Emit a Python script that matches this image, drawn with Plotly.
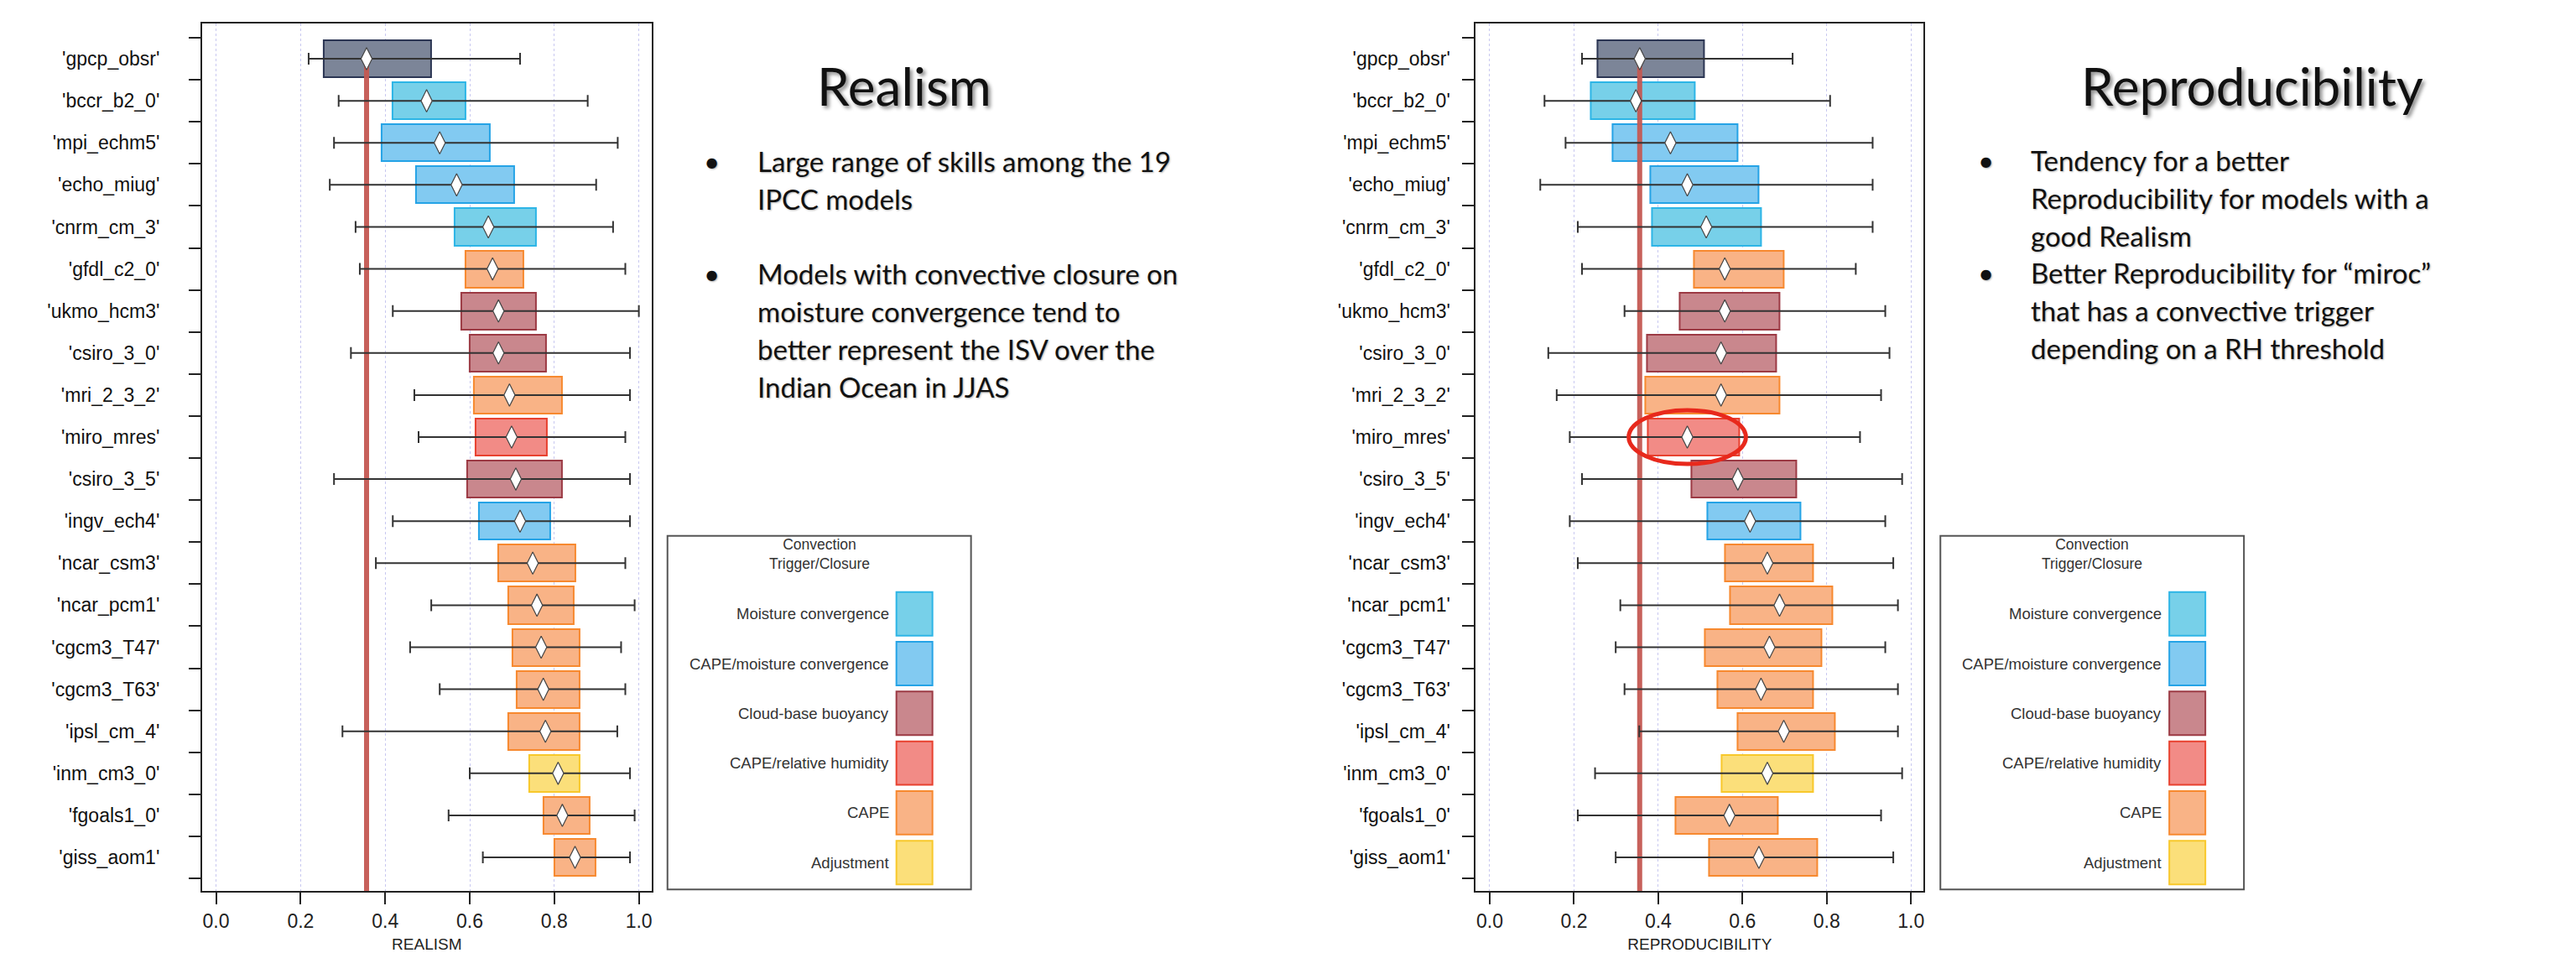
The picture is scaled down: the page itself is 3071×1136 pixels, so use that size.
import plotly.graph_objects as go

W, H = 3071, 1136

# ---- data -------------------------------------------------------------
models = ["'gpcp_obsr'", "'bccr_b2_0'", "'mpi_echm5'", "'echo_miug'", "'cnrm_cm_3'",
          "'gfdl_c2_0'", "'ukmo_hcm3'", "'csiro_3_0'", "'mri_2_3_2'", "'miro_mres'",
          "'csiro_3_5'", "'ingv_ech4'", "'ncar_csm3'", "'ncar_pcm1'", "'cgcm3_T47'",
          "'cgcm3_T63'", "'ipsl_cm_4'", "'inm_cm3_0'", "'fgoals1_0'", "'giss_aom1'"]

scheme = ["Observation", "Moisture convergence", "CAPE/moisture convergence",
          "CAPE/moisture convergence", "Moisture convergence", "CAPE",
          "Cloud-base buoyancy", "Cloud-base buoyancy", "CAPE", "CAPE/relative humidity",
          "Cloud-base buoyancy", "CAPE/moisture convergence", "CAPE", "CAPE", "CAPE",
          "CAPE", "CAPE", "Adjustment", "CAPE", "CAPE"]

# Realism: interquartile box, whisker range and median
real_q1 = [0.255, 0.418, 0.391, 0.473, 0.565, 0.590, 0.580, 0.600, 0.609, 0.614,
           0.593, 0.621, 0.667, 0.691, 0.701, 0.711, 0.691, 0.741, 0.774, 0.801]
real_q3 = [0.508, 0.590, 0.648, 0.705, 0.757, 0.727, 0.757, 0.780, 0.818, 0.783,
           0.818, 0.790, 0.850, 0.846, 0.859, 0.859, 0.859, 0.859, 0.883, 0.898]
real_min = [0.219, 0.290, 0.279, 0.269, 0.330, 0.340, 0.418, 0.319, 0.469, 0.479,
            0.279, 0.418, 0.378, 0.509, 0.459, 0.529, 0.299, 0.600, 0.550, 0.631]
real_max = [0.719, 0.879, 0.950, 0.899, 0.939, 0.968, 1.000, 0.979, 0.979, 0.968,
            0.979, 0.979, 0.968, 0.990, 0.958, 0.968, 0.949, 0.979, 0.990, 0.979]
real_med = [0.356, 0.498, 0.529, 0.569, 0.644, 0.654, 0.668, 0.668, 0.694, 0.699,
            0.709, 0.719, 0.749, 0.759, 0.769, 0.774, 0.779, 0.809, 0.819, 0.849]

# Reproducibility
rep_q1 = [0.256, 0.239, 0.291, 0.381, 0.385, 0.485, 0.451, 0.373, 0.370, 0.375,
          0.479, 0.517, 0.558, 0.570, 0.510, 0.540, 0.588, 0.550, 0.441, 0.520]
rep_q3 = [0.508, 0.487, 0.588, 0.639, 0.644, 0.697, 0.688, 0.680, 0.688, 0.593,
          0.728, 0.738, 0.768, 0.814, 0.788, 0.768, 0.820, 0.768, 0.683, 0.778]
rep_min = [0.219, 0.130, 0.180, 0.120, 0.209, 0.219, 0.320, 0.139, 0.159, 0.190,
           0.219, 0.190, 0.209, 0.310, 0.299, 0.320, 0.355, 0.250, 0.209, 0.299]
rep_max = [0.719, 0.808, 0.909, 0.909, 0.909, 0.869, 0.939, 0.949, 0.929, 0.879,
           0.979, 0.939, 0.958, 0.969, 0.939, 0.969, 0.969, 0.979, 0.929, 0.958]
rep_med = [0.356, 0.347, 0.429, 0.469, 0.514, 0.558, 0.558, 0.549, 0.549, 0.469,
           0.589, 0.618, 0.659, 0.688, 0.664, 0.644, 0.698, 0.659, 0.569, 0.639]

x_ticks = [0.0, 0.2, 0.4, 0.6, 0.8, 1.0]
legend_items = ["Moisture convergence", "CAPE/moisture convergence", "Cloud-base buoyancy",
                "CAPE/relative humidity", "CAPE", "Adjustment"]
highlight_model = "'miro_mres'"

realism_notes = [
    ["Large range of skills among the 19", "IPCC models"],
    ["Models with convective closure on", "moisture convergence tend to",
     "better represent the ISV over the", "Indian Ocean in JJAS"],
]
reproducibility_notes = [
    ["Tendency for a better", "Reproducibility for models with a", "good Realism"],
    ["Better Reproducibility for \u201cmiroc\u201d", "that has a convective trigger",
     "depending on a RH threshold"],
]

# ---- styles -----------------------------------------------------------
FILL = {"Observation": "#7c8598", "Moisture convergence": "#77d0e9",
        "CAPE/moisture convergence": "#82caf1", "Cloud-base buoyancy": "#c9878d",
        "CAPE/relative humidity": "#f28b86", "CAPE": "#f9b386", "Adjustment": "#fbdf7a"}
EDGE = {"Observation": "#2b3553", "Moisture convergence": "#2db5e6",
        "CAPE/moisture convergence": "#25a3e6", "Cloud-base buoyancy": "#9c3a44",
        "CAPE/relative humidity": "#e8412f", "CAPE": "#f7892f", "Adjustment": "#f8c82b"}
AX = "#222222"
LABEL_FONT = "Liberation Sans, Arial, sans-serif"
TEXT_FONT = "Lato, Open Sans, sans-serif"
Y_RANGE = [19.80, -0.84]
X_RANGE = [-0.033, 1.030]
LINE_STEP = 45          # body text line pitch in px
BODY_SIZE = 33


def px(x):
    return x / W


def py(y):
    return 1 - y / H


fig = go.Figure()
rows = list(range(len(models)))

panels = [
    dict(xa="x", ya="y", q1=real_q1, q3=real_q3, lo=real_min, hi=real_max, med=real_med),
    dict(xa="x2", ya="y2", q1=rep_q1, q3=rep_q3, lo=rep_min, hi=rep_max, med=rep_med),
]

for p in panels:
    # interquartile boxes
    fig.add_trace(go.Bar(
        orientation="h", y=rows, base=p["q1"],
        x=[b - a for a, b in zip(p["q1"], p["q3"])], width=0.88,
        marker=dict(color=[FILL[s] for s in scheme],
                    line=dict(color=[EDGE[s] for s in scheme], width=2)),
        xaxis=p["xa"], yaxis=p["ya"], hoverinfo="skip", showlegend=False))
    # observed reference line running down from the observation median
    obs = p["med"][0]
    fig.add_trace(go.Scatter(
        x=[obs, obs], y=[rows[0], Y_RANGE[0]], mode="lines",
        line=dict(color="rgba(196,88,82,0.95)", width=6),
        xaxis=p["xa"], yaxis=p["ya"], hoverinfo="skip", showlegend=False))
    # whiskers and medians
    fig.add_trace(go.Scatter(
        x=p["med"], y=rows, mode="markers",
        marker=dict(symbol="diamond-tall", size=19, color="white",
                    line=dict(color="#444444", width=1.2)),
        error_x=dict(type="data", symmetric=False,
                     array=[h - m for m, h in zip(p["med"], p["hi"])],
                     arrayminus=[m - l for m, l in zip(p["med"], p["lo"])],
                     color="#333333", thickness=2, width=7),
        xaxis=p["xa"], yaxis=p["ya"], hoverinfo="skip", showlegend=False))


def xaxis(domain, title, anchor):
    return dict(domain=domain, anchor=anchor, range=X_RANGE,
                tickmode="array", tickvals=x_ticks, ticktext=[f"{v:.1f}" for v in x_ticks],
                ticks="outside", ticklen=14, tickwidth=2, tickcolor=AX,
                tickfont=dict(family=LABEL_FONT, size=23, color=AX),
                showline=True, linewidth=2, linecolor=AX, mirror=True,
                showgrid=True, gridcolor="#c8c8f0", griddash="dot", gridwidth=1,
                zeroline=False, fixedrange=True,
                title=dict(text=title, standoff=12,
                           font=dict(family=LABEL_FONT, size=19, color=AX)))


def yaxis(domain, anchor, standoff):
    return dict(domain=domain, anchor=anchor, range=Y_RANGE,
                tickmode="array", tickvals=rows, ticktext=models, ticks="",
                ticklabelstandoff=standoff,
                tickfont=dict(family=LABEL_FONT, size=23, color="#111111"),
                minor=dict(tickmode="array", tickvals=[r - 0.5 for r in rows] + [rows[-1] + 0.5],
                           ticks="outside", ticklen=14, tickwidth=2, tickcolor=AX, showgrid=False),
                showline=True, linewidth=2, linecolor=AX, mirror=True,
                showgrid=False, zeroline=False, fixedrange=True)


ydom = [py(1064), py(28)]
fig.update_layout(
    width=W, height=H, margin=dict(l=0, r=0, t=0, b=0),
    paper_bgcolor="white", plot_bgcolor="white", showlegend=False, bargap=0,
    xaxis=xaxis([px(241), px(777)], "REALISM", "y"),
    yaxis=yaxis(ydom, "x", 44),
    xaxis2=xaxis([px(1760), px(2294)], "REPRODUCIBILITY", "y2"),
    yaxis2=yaxis(ydom, "x2", 24),
)

shapes = []
annotations = []

# highlight around the miroc reproducibility box
k = models.index(highlight_model)
mx = rep_med[k]
shapes.append(dict(type="circle", xref="x2", yref="y2", layer="above",
                   x0=mx - 0.139, x1=mx + 0.139, y0=k - 0.64, y1=k + 0.64,
                   line=dict(color="#e8291c", width=5)))

# legend panels
for lx in (796, 2314):
    shapes.append(dict(type="rect", xref="paper", yref="paper",
                       x0=px(lx), x1=px(lx + 362), y0=py(1062), y1=py(640),
                       line=dict(color="#555555", width=2), fillcolor="rgba(0,0,0,0)"))
    annotations.append(dict(xref="paper", yref="paper", x=px(lx + 181), y=py(662),
                            text="Convection<br>Trigger/Closure", showarrow=False,
                            xanchor="center", yanchor="middle", align="center",
                            font=dict(family=LABEL_FONT, size=17.5, color="#333333")))
    for j, name in enumerate(legend_items):
        top = 707 + j * 59.4
        shapes.append(dict(type="rect", xref="paper", yref="paper",
                           x0=px(lx + 273), x1=px(lx + 316), y0=py(top + 52), y1=py(top),
                           fillcolor=FILL[name], line=dict(color=EDGE[name], width=2)))
        annotations.append(dict(xref="paper", yref="paper", x=px(lx + 266), y=py(top + 26),
                                text=name, showarrow=False, xanchor="right", yanchor="middle",
                                font=dict(family=LABEL_FONT, size=18.5, color="#333333")))

TITLE_SHADOW = "3px 3px 4px rgba(0,0,0,0.45)"
BODY_SHADOW = "1px 1px 2px rgba(0,0,0,0.3)"
body_font = dict(family=TEXT_FONT, size=BODY_SIZE, color="#111111", shadow=BODY_SHADOW)

headings = [("Realism", 1078), ("Reproducibility", 2686)]
for text, cx in headings:
    annotations.append(dict(xref="paper", yref="paper", x=px(cx), y=py(102), text=text,
                            showarrow=False, xanchor="center", yanchor="middle",
                            font=dict(family=TEXT_FONT, size=62, color="#111111",
                                      shadow=TITLE_SHADOW)))

# bullet blocks: (bullet x, first line y, blank lines between paragraphs, notes)
blocks = [(849, 192, 1, realism_notes), (2368, 191, 0, reproducibility_notes)]
for bx, y0, gap, notes in blocks:
    y = y0
    for para in notes:
        annotations.append(dict(xref="paper", yref="paper", x=px(bx), y=py(y), text="\u2022",
                                showarrow=False, xanchor="center", yanchor="middle",
                                font=body_font))
        for line in para:
            annotations.append(dict(xref="paper", yref="paper", x=px(bx + 52), y=py(y),
                                    text=line, showarrow=False, xanchor="left",
                                    yanchor="middle", font=body_font))
            y += LINE_STEP
        y += gap * LINE_STEP

fig.update_layout(shapes=shapes, annotations=annotations)
fig.write_html("out.html")
